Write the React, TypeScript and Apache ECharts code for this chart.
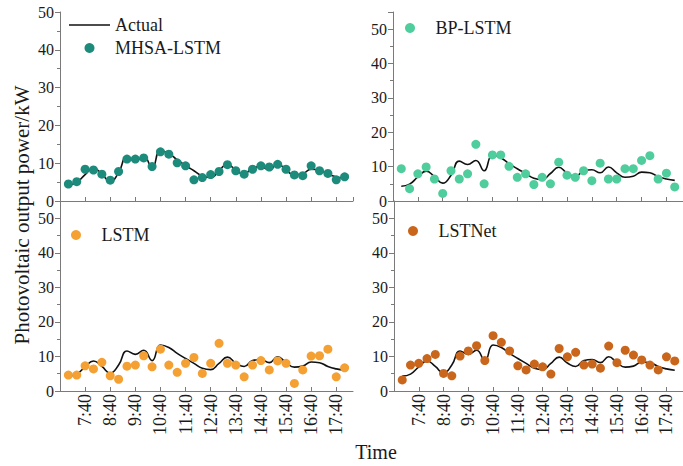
import React, { useEffect, useRef } from "react";
import * as echarts from "echarts";

// Sampling times (20-minute steps)
const times = [
  "7:00", "7:20", "7:40", "8:00", "8:20", "8:40", "9:00", "9:20", "9:40",
  "10:00", "10:20", "10:40", "11:00", "11:20", "11:40", "12:00", "12:20",
  "12:40", "13:00", "13:20", "13:40", "14:00", "14:20", "14:40", "15:00",
  "15:20", "15:40", "16:00", "16:20", "16:40", "17:00", "17:20", "17:40", "18:00",
];

// Measured PV output (kW)
const actual = [
  4.3, 4.9, 7.0, 8.7, 7.1, 5.2, 7.5, 11.6, 10.6, 11.8, 8.8, 13.3, 12.6, 10.9,
  9.4, 8.0, 6.6, 6.2, 8.0, 9.8, 8.1, 7.1, 8.8, 9.1, 8.2, 9.9, 8.2, 6.9, 7.2,
  8.4, 8.2, 7.1, 6.4, 6.0,
];

// Model predictions (kW)
const mhsaLstm = [
  4.5, 5.1, 8.4, 8.2, 7.1, 5.5, 7.8, 11.1, 11.1, 11.4, 9.1, 13.0, 12.4, 10.1,
  9.3, 5.6, 6.2, 7.0, 7.8, 9.6, 8.0, 7.1, 8.4, 9.3, 9.0, 9.7, 8.4, 6.9, 6.7,
  9.3, 8.0, 7.3, 5.6, 6.4,
];
const bpLstm = [
  9.4, 3.6, 7.9, 9.9, 6.4, 2.2, 8.8, 6.4, 7.9, 16.5, 5.0, 13.4, 13.4, 10.1,
  6.9, 7.9, 4.8, 6.9, 5.0, 11.3, 7.5, 6.9, 8.8, 5.9, 11.0, 6.4, 6.4, 9.4, 9.4,
  11.8, 13.2, 6.4, 8.1, 4.1,
];
const lstm = [
  4.6, 4.6, 7.3, 6.4, 8.3, 4.4, 3.4, 7.2, 7.5, 10.2, 7.0, 12.1, 7.5, 5.4, 8.0,
  9.7, 5.1, 8.0, 13.8, 8.0, 7.5, 4.1, 7.5, 8.8, 6.1, 8.7, 8.0, 2.2, 6.1, 10.1,
  10.2, 12.1, 4.1, 6.7,
];
const lstnet = [
  3.2, 7.5, 8.0, 9.4, 10.6, 5.1, 4.4, 10.1, 11.6, 13.1, 8.8, 16.0, 14.1, 11.6,
  7.3, 6.1, 7.8, 7.0, 4.9, 12.3, 9.9, 11.2, 7.5, 7.8, 6.6, 13.0, 8.2, 11.8,
  10.4, 9.0, 7.5, 6.1, 9.9, 8.7,
];

const yTicks = [0, 10, 20, 30, 40, 50];

// x axis runs in minutes after 6:40 so hourly ticks fall on :40
const ORIGIN = 6 * 60 + 40;
const toMin = (t: string) => {
  const [h, m] = t.split(":").map(Number);
  return h * 60 + m - ORIGIN;
};
const fmtMin = (v: number) => {
  const total = v + ORIGIN;
  const h = Math.floor(total / 60);
  const m = total % 60;
  return `${h}:${m < 10 ? "0" + m : m}`;
};

const FONT = "'Liberation Serif', 'Times New Roman', serif";
const AXIS_COLOR = "#7a7a7a";
const TEXT_COLOR = "#1a1a1a";
// thin bar used as the legend swatch of the measured curve
const LINE_ICON = "path://M0,0H41V1.6H0Z";

const panels = [
  { name: "MHSA-LSTM", values: mhsaLstm, color: "#1d8b7b", grid: { left: 60, top: 12, width: 293, height: 189 }, yMax: 50, labels: false, legend: { left: 69, top: 16 } },
  { name: "BP-LSTM", values: bpLstm, color: "#4fcd9c", grid: { left: 393, top: 12, width: 290, height: 189 }, yMax: 55, labels: false, legend: { left: 405, top: 19 } },
  { name: "LSTM", values: lstm, color: "#f4a033", grid: { left: 60, top: 201, width: 293, height: 190 }, yMax: 55, labels: true, legend: { left: 71, top: 226 } },
  { name: "LSTNet", values: lstnet, color: "#c9661b", grid: { left: 394, top: 201, width: 289, height: 190 }, yMax: 55, labels: true, legend: { left: 408, top: 222 } },
];

export default function App() {
  const ref = useRef<HTMLDivElement>(null);

  useEffect(() => {
    if (!ref.current) return;
    const chart = echarts.init(ref.current, undefined, { renderer: "svg" });
    const xs = times.map(toMin);

    const grid = panels.map((p) => ({ ...p.grid, containLabel: false }));

    const xAxis = panels.map((p, i) => ({
      type: "value",
      gridIndex: i,
      min: 0,
      max: 700,
      interval: 60,
      axisLine: { show: true, lineStyle: { color: AXIS_COLOR, width: 1 } },
      axisTick: { show: true, inside: true, length: 4, lineStyle: { color: AXIS_COLOR } },
      splitLine: { show: false },
      axisLabel: {
        show: p.labels,
        rotate: 90,
        margin: 3,
        fontSize: 18,
        fontFamily: FONT,
        color: TEXT_COLOR,
        formatter: (v: number) => (v === 0 ? "" : fmtMin(v)),
      },
    }));

    const yAxis = panels.map((p, i) => ({
      type: "value",
      gridIndex: i,
      min: yTicks[0],
      max: p.yMax,
      interval: 10,
      axisLine: { show: true, lineStyle: { color: AXIS_COLOR, width: 1 } },
      axisTick: { show: true, length: 5, lineStyle: { color: AXIS_COLOR } },
      minorTick: { show: true, splitNumber: 2, length: 3, lineStyle: { color: AXIS_COLOR } },
      splitLine: { show: false },
      axisLabel: {
        margin: 6,
        fontSize: 16,
        fontFamily: FONT,
        color: TEXT_COLOR,
        formatter: (v: number) => (yTicks.includes(v) ? String(v) : ""),
      },
    }));

    const series: any[] = [];
    panels.forEach((p, i) => {
      series.push({
        name: "Actual",
        type: "line",
        xAxisIndex: i,
        yAxisIndex: i,
        data: xs.map((x, k) => [x, actual[k]]),
        smooth: 0.5,
        showSymbol: false,
        symbol: "none",
        lineStyle: { color: "#111", width: 1.6 },
        itemStyle: { color: "#111" },
        z: 2,
      });
      series.push({
        name: p.name,
        type: "scatter",
        xAxisIndex: i,
        yAxisIndex: i,
        data: xs.map((x, k) => [x, p.values[k]]),
        symbol: "circle",
        symbolSize: 9,
        itemStyle: { color: p.color, opacity: 1 },
        z: 3,
      });
    });

    const legendText = { fontSize: 18, fontFamily: FONT, color: TEXT_COLOR, lineHeight: 18 };
    const legend = panels.map((p, i) => ({
      left: p.legend.left,
      top: p.legend.top,
      orient: "vertical",
      itemWidth: 41,
      itemHeight: 10,
      itemGap: 5,
      padding: 0,
      selectedMode: false,
      symbolKeepAspect: true,
      textStyle: legendText,
      data: i === 0
        ? [{ name: "Actual", icon: LINE_ICON, itemStyle: { color: "#111" } }, { name: p.name, icon: "circle" }]
        : [{ name: p.name, icon: "circle" }],
    }));

    chart.setOption({
      animation: false,
      backgroundColor: "#ffffff",
      grid,
      xAxis,
      yAxis,
      series,
      legend,
      graphic: [
        {
          type: "text",
          x: 22,
          y: 215,
          rotation: Math.PI / 2,
          style: {
            text: "Photovoltaic output power/kW",
            font: `21px ${FONT}`,
            fill: TEXT_COLOR,
            align: "center",
            verticalAlign: "middle",
          },
        },
        {
          type: "text",
          x: 376,
          y: 452,
          style: {
            text: "Time",
            font: `20px ${FONT}`,
            fill: TEXT_COLOR,
            align: "center",
            verticalAlign: "middle",
          },
        },
      ],
    });

    return () => chart.dispose();
  }, []);

  return (
    <div
      ref={ref}
      style={{ position: "absolute", left: 0, top: 0, width: 683, height: 466, background: "#fff" }}
    />
  );
}
